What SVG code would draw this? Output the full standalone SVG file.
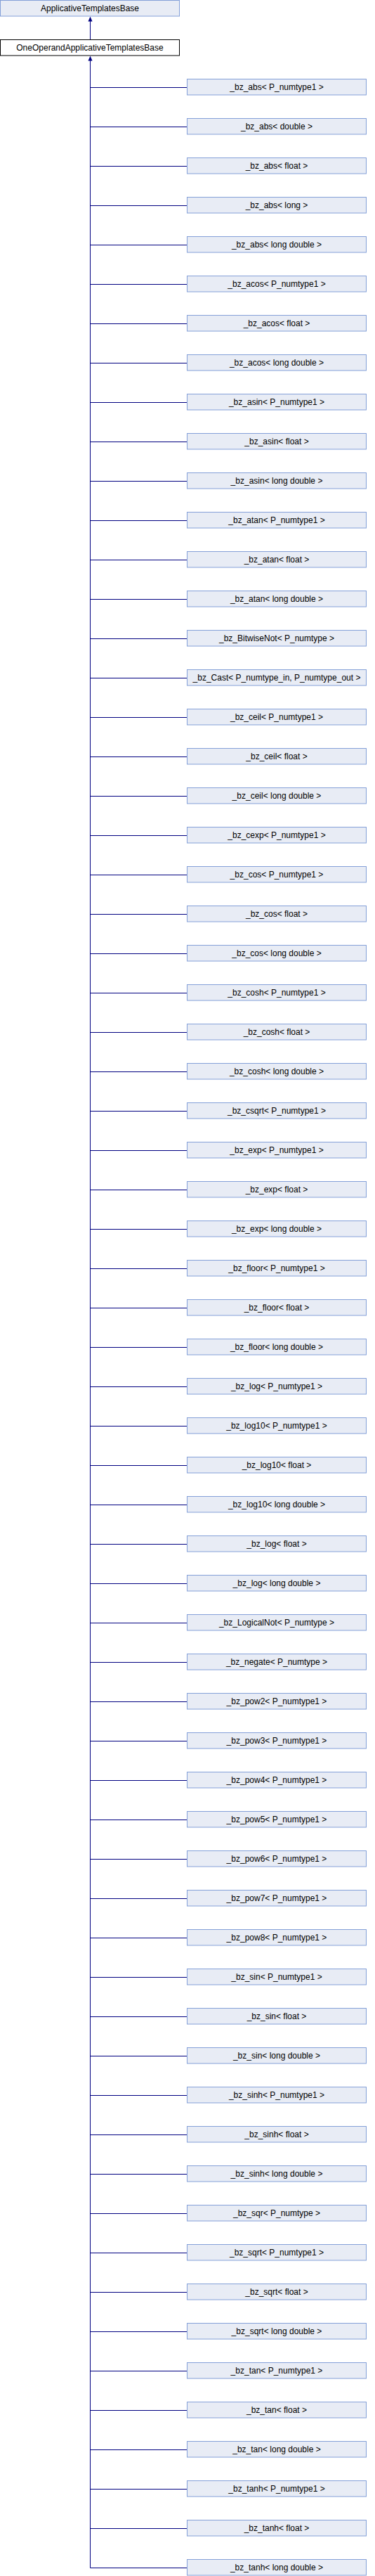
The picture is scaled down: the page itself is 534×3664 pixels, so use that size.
<svg xmlns="http://www.w3.org/2000/svg" width="534" height="3664" viewBox="0 0 534 3664">
<style>
.n rect{fill:#e8ecf5;stroke:#84a0d8;stroke-width:1}
.n.cur rect{fill:#ffffff;stroke:#000000}
.n text{font-family:"Liberation Sans",Arial,sans-serif;font-size:12px;fill:#000;text-anchor:middle}
#edges path{fill:none;stroke:#000080;stroke-width:1}
#edges polygon{fill:#000080;stroke:none}
</style>
<g id="edges">
<path d="M128.5,30V56.5"/>
<polygon points="128.5,23.5 125.5,30.5 131.5,30.5"/>
<path d="M128.5,86V3652.5"/>
<polygon points="128.5,79.5 125.5,86.5 131.5,86.5"/>
<path d="M128.5,124.5H266.5M128.5,180.5H266.5M128.5,236.5H266.5M128.5,292.5H266.5M128.5,348.5H266.5M128.5,404.5H266.5M128.5,460.5H266.5M128.5,516.5H266.5M128.5,572.5H266.5M128.5,628.5H266.5M128.5,684.5H266.5M128.5,740.5H266.5M128.5,796.5H266.5M128.5,852.5H266.5M128.5,908.5H266.5M128.5,964.5H266.5M128.5,1020.5H266.5M128.5,1076.5H266.5M128.5,1132.5H266.5M128.5,1188.5H266.5M128.5,1244.5H266.5M128.5,1300.5H266.5M128.5,1356.5H266.5M128.5,1412.5H266.5M128.5,1468.5H266.5M128.5,1524.5H266.5M128.5,1580.5H266.5M128.5,1636.5H266.5M128.5,1692.5H266.5M128.5,1748.5H266.5M128.5,1804.5H266.5M128.5,1860.5H266.5M128.5,1916.5H266.5M128.5,1972.5H266.5M128.5,2028.5H266.5M128.5,2084.5H266.5M128.5,2140.5H266.5M128.5,2196.5H266.5M128.5,2252.5H266.5M128.5,2308.5H266.5M128.5,2364.5H266.5M128.5,2420.5H266.5M128.5,2476.5H266.5M128.5,2532.5H266.5M128.5,2588.5H266.5M128.5,2644.5H266.5M128.5,2700.5H266.5M128.5,2756.5H266.5M128.5,2812.5H266.5M128.5,2868.5H266.5M128.5,2924.5H266.5M128.5,2980.5H266.5M128.5,3036.5H266.5M128.5,3092.5H266.5M128.5,3148.5H266.5M128.5,3204.5H266.5M128.5,3260.5H266.5M128.5,3316.5H266.5M128.5,3372.5H266.5M128.5,3428.5H266.5M128.5,3484.5H266.5M128.5,3540.5H266.5M128.5,3596.5H266.5M128.5,3652.5H266.5"/>
</g>
<g id="ApplicativeTemplatesBase" class="n"><rect x="0.5" y="0.5" width="255" height="22.5"/><text x="128" y="15.5">ApplicativeTemplatesBase</text></g>
<g id="OneOperandApplicativeTemplatesBase" class="n cur"><rect x="0.5" y="56.5" width="255" height="22.5"/><text x="128" y="71.5">OneOperandApplicativeTemplatesBase</text></g>
<g id="c1" class="n"><rect x="266.5" y="112.5" width="255" height="22.5"/><text x="394" y="128">_bz_abs&lt; P_numtype1 &gt;</text></g>
<g id="c2" class="n"><rect x="266.5" y="168.5" width="255" height="22.5"/><text x="394" y="184">_bz_abs&lt; double &gt;</text></g>
<g id="c3" class="n"><rect x="266.5" y="224.5" width="255" height="22.5"/><text x="394" y="240">_bz_abs&lt; float &gt;</text></g>
<g id="c4" class="n"><rect x="266.5" y="280.5" width="255" height="22.5"/><text x="394" y="296">_bz_abs&lt; long &gt;</text></g>
<g id="c5" class="n"><rect x="266.5" y="336.5" width="255" height="22.5"/><text x="394" y="352">_bz_abs&lt; long double &gt;</text></g>
<g id="c6" class="n"><rect x="266.5" y="392.5" width="255" height="22.5"/><text x="394" y="408">_bz_acos&lt; P_numtype1 &gt;</text></g>
<g id="c7" class="n"><rect x="266.5" y="448.5" width="255" height="22.5"/><text x="394" y="464">_bz_acos&lt; float &gt;</text></g>
<g id="c8" class="n"><rect x="266.5" y="504.5" width="255" height="22.5"/><text x="394" y="520">_bz_acos&lt; long double &gt;</text></g>
<g id="c9" class="n"><rect x="266.5" y="560.5" width="255" height="22.5"/><text x="394" y="576">_bz_asin&lt; P_numtype1 &gt;</text></g>
<g id="c10" class="n"><rect x="266.5" y="616.5" width="255" height="22.5"/><text x="394" y="632">_bz_asin&lt; float &gt;</text></g>
<g id="c11" class="n"><rect x="266.5" y="672.5" width="255" height="22.5"/><text x="394" y="688">_bz_asin&lt; long double &gt;</text></g>
<g id="c12" class="n"><rect x="266.5" y="728.5" width="255" height="22.5"/><text x="394" y="744">_bz_atan&lt; P_numtype1 &gt;</text></g>
<g id="c13" class="n"><rect x="266.5" y="784.5" width="255" height="22.5"/><text x="394" y="800">_bz_atan&lt; float &gt;</text></g>
<g id="c14" class="n"><rect x="266.5" y="840.5" width="255" height="22.5"/><text x="394" y="856">_bz_atan&lt; long double &gt;</text></g>
<g id="c15" class="n"><rect x="266.5" y="896.5" width="255" height="22.5"/><text x="394" y="912">_bz_BitwiseNot&lt; P_numtype &gt;</text></g>
<g id="c16" class="n"><rect x="266.5" y="952.5" width="255" height="22.5"/><text x="394" y="968">_bz_Cast&lt; P_numtype_in, P_numtype_out &gt;</text></g>
<g id="c17" class="n"><rect x="266.5" y="1008.5" width="255" height="22.5"/><text x="394" y="1024">_bz_ceil&lt; P_numtype1 &gt;</text></g>
<g id="c18" class="n"><rect x="266.5" y="1064.5" width="255" height="22.5"/><text x="394" y="1080">_bz_ceil&lt; float &gt;</text></g>
<g id="c19" class="n"><rect x="266.5" y="1120.5" width="255" height="22.5"/><text x="394" y="1136">_bz_ceil&lt; long double &gt;</text></g>
<g id="c20" class="n"><rect x="266.5" y="1176.5" width="255" height="22.5"/><text x="394" y="1192">_bz_cexp&lt; P_numtype1 &gt;</text></g>
<g id="c21" class="n"><rect x="266.5" y="1232.5" width="255" height="22.5"/><text x="394" y="1248">_bz_cos&lt; P_numtype1 &gt;</text></g>
<g id="c22" class="n"><rect x="266.5" y="1288.5" width="255" height="22.5"/><text x="394" y="1304">_bz_cos&lt; float &gt;</text></g>
<g id="c23" class="n"><rect x="266.5" y="1344.5" width="255" height="22.5"/><text x="394" y="1360">_bz_cos&lt; long double &gt;</text></g>
<g id="c24" class="n"><rect x="266.5" y="1400.5" width="255" height="22.5"/><text x="394" y="1416">_bz_cosh&lt; P_numtype1 &gt;</text></g>
<g id="c25" class="n"><rect x="266.5" y="1456.5" width="255" height="22.5"/><text x="394" y="1472">_bz_cosh&lt; float &gt;</text></g>
<g id="c26" class="n"><rect x="266.5" y="1512.5" width="255" height="22.5"/><text x="394" y="1528">_bz_cosh&lt; long double &gt;</text></g>
<g id="c27" class="n"><rect x="266.5" y="1568.5" width="255" height="22.5"/><text x="394" y="1584">_bz_csqrt&lt; P_numtype1 &gt;</text></g>
<g id="c28" class="n"><rect x="266.5" y="1624.5" width="255" height="22.5"/><text x="394" y="1640">_bz_exp&lt; P_numtype1 &gt;</text></g>
<g id="c29" class="n"><rect x="266.5" y="1680.5" width="255" height="22.5"/><text x="394" y="1696">_bz_exp&lt; float &gt;</text></g>
<g id="c30" class="n"><rect x="266.5" y="1736.5" width="255" height="22.5"/><text x="394" y="1752">_bz_exp&lt; long double &gt;</text></g>
<g id="c31" class="n"><rect x="266.5" y="1792.5" width="255" height="22.5"/><text x="394" y="1808">_bz_floor&lt; P_numtype1 &gt;</text></g>
<g id="c32" class="n"><rect x="266.5" y="1848.5" width="255" height="22.5"/><text x="394" y="1864">_bz_floor&lt; float &gt;</text></g>
<g id="c33" class="n"><rect x="266.5" y="1904.5" width="255" height="22.5"/><text x="394" y="1920">_bz_floor&lt; long double &gt;</text></g>
<g id="c34" class="n"><rect x="266.5" y="1960.5" width="255" height="22.5"/><text x="394" y="1976">_bz_log&lt; P_numtype1 &gt;</text></g>
<g id="c35" class="n"><rect x="266.5" y="2016.5" width="255" height="22.5"/><text x="394" y="2032">_bz_log10&lt; P_numtype1 &gt;</text></g>
<g id="c36" class="n"><rect x="266.5" y="2072.5" width="255" height="22.5"/><text x="394" y="2088">_bz_log10&lt; float &gt;</text></g>
<g id="c37" class="n"><rect x="266.5" y="2128.5" width="255" height="22.5"/><text x="394" y="2144">_bz_log10&lt; long double &gt;</text></g>
<g id="c38" class="n"><rect x="266.5" y="2184.5" width="255" height="22.5"/><text x="394" y="2200">_bz_log&lt; float &gt;</text></g>
<g id="c39" class="n"><rect x="266.5" y="2240.5" width="255" height="22.5"/><text x="394" y="2256">_bz_log&lt; long double &gt;</text></g>
<g id="c40" class="n"><rect x="266.5" y="2296.5" width="255" height="22.5"/><text x="394" y="2312">_bz_LogicalNot&lt; P_numtype &gt;</text></g>
<g id="c41" class="n"><rect x="266.5" y="2352.5" width="255" height="22.5"/><text x="394" y="2368">_bz_negate&lt; P_numtype &gt;</text></g>
<g id="c42" class="n"><rect x="266.5" y="2408.5" width="255" height="22.5"/><text x="394" y="2424">_bz_pow2&lt; P_numtype1 &gt;</text></g>
<g id="c43" class="n"><rect x="266.5" y="2464.5" width="255" height="22.5"/><text x="394" y="2480">_bz_pow3&lt; P_numtype1 &gt;</text></g>
<g id="c44" class="n"><rect x="266.5" y="2520.5" width="255" height="22.5"/><text x="394" y="2536">_bz_pow4&lt; P_numtype1 &gt;</text></g>
<g id="c45" class="n"><rect x="266.5" y="2576.5" width="255" height="22.5"/><text x="394" y="2592">_bz_pow5&lt; P_numtype1 &gt;</text></g>
<g id="c46" class="n"><rect x="266.5" y="2632.5" width="255" height="22.5"/><text x="394" y="2648">_bz_pow6&lt; P_numtype1 &gt;</text></g>
<g id="c47" class="n"><rect x="266.5" y="2688.5" width="255" height="22.5"/><text x="394" y="2704">_bz_pow7&lt; P_numtype1 &gt;</text></g>
<g id="c48" class="n"><rect x="266.5" y="2744.5" width="255" height="22.5"/><text x="394" y="2760">_bz_pow8&lt; P_numtype1 &gt;</text></g>
<g id="c49" class="n"><rect x="266.5" y="2800.5" width="255" height="22.5"/><text x="394" y="2816">_bz_sin&lt; P_numtype1 &gt;</text></g>
<g id="c50" class="n"><rect x="266.5" y="2856.5" width="255" height="22.5"/><text x="394" y="2872">_bz_sin&lt; float &gt;</text></g>
<g id="c51" class="n"><rect x="266.5" y="2912.5" width="255" height="22.5"/><text x="394" y="2928">_bz_sin&lt; long double &gt;</text></g>
<g id="c52" class="n"><rect x="266.5" y="2968.5" width="255" height="22.5"/><text x="394" y="2984">_bz_sinh&lt; P_numtype1 &gt;</text></g>
<g id="c53" class="n"><rect x="266.5" y="3024.5" width="255" height="22.5"/><text x="394" y="3040">_bz_sinh&lt; float &gt;</text></g>
<g id="c54" class="n"><rect x="266.5" y="3080.5" width="255" height="22.5"/><text x="394" y="3096">_bz_sinh&lt; long double &gt;</text></g>
<g id="c55" class="n"><rect x="266.5" y="3136.5" width="255" height="22.5"/><text x="394" y="3152">_bz_sqr&lt; P_numtype &gt;</text></g>
<g id="c56" class="n"><rect x="266.5" y="3192.5" width="255" height="22.5"/><text x="394" y="3208">_bz_sqrt&lt; P_numtype1 &gt;</text></g>
<g id="c57" class="n"><rect x="266.5" y="3248.5" width="255" height="22.5"/><text x="394" y="3264">_bz_sqrt&lt; float &gt;</text></g>
<g id="c58" class="n"><rect x="266.5" y="3304.5" width="255" height="22.5"/><text x="394" y="3320">_bz_sqrt&lt; long double &gt;</text></g>
<g id="c59" class="n"><rect x="266.5" y="3360.5" width="255" height="22.5"/><text x="394" y="3376">_bz_tan&lt; P_numtype1 &gt;</text></g>
<g id="c60" class="n"><rect x="266.5" y="3416.5" width="255" height="22.5"/><text x="394" y="3432">_bz_tan&lt; float &gt;</text></g>
<g id="c61" class="n"><rect x="266.5" y="3472.5" width="255" height="22.5"/><text x="394" y="3488">_bz_tan&lt; long double &gt;</text></g>
<g id="c62" class="n"><rect x="266.5" y="3528.5" width="255" height="22.5"/><text x="394" y="3544">_bz_tanh&lt; P_numtype1 &gt;</text></g>
<g id="c63" class="n"><rect x="266.5" y="3584.5" width="255" height="22.5"/><text x="394" y="3600">_bz_tanh&lt; float &gt;</text></g>
<g id="c64" class="n"><rect x="266.5" y="3640.5" width="255" height="22.5"/><text x="394" y="3656">_bz_tanh&lt; long double &gt;</text></g>
</svg>
